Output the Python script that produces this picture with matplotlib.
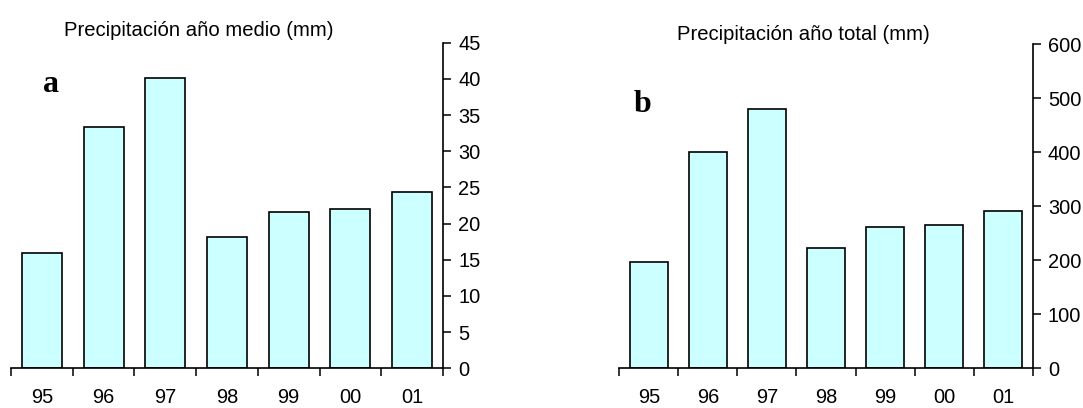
import matplotlib
matplotlib.use("Agg")
import matplotlib.pyplot as plt
import numpy as np

# Annual precipitation, 1995-2001
years = ["95", "96", "97", "98", "99", "00", "01"]
mean_precip = [16.0, 33.4, 40.1, 18.2, 21.6, 22.0, 24.3]
total_precip = [196, 400, 481, 222, 262, 266, 292]

mean_ticks = [0, 5, 10, 15, 20, 25, 30, 35, 40, 45]
total_ticks = [0, 100, 200, 300, 400, 500, 600]

W, H = 1083, 408
plt.rcParams["font.family"] = ["Liberation Sans", "DejaVu Sans"]

fig = plt.figure(figsize=(W / 100, H / 100), dpi=100)


def px_rect(left, right, bottom, top):
    return [left / W, 1 - bottom / H, (right - left) / W, (bottom - top) / H]


def panel(rect, values, ticks, ymax):
    ax = fig.add_axes(rect)
    x = np.arange(len(values))
    ax.bar(x, values, width=0.65, color="#ccffff", edgecolor="black",
           linewidth=1.2, zorder=2)
    ax.set_xlim(-0.5, len(values) - 0.5)
    ax.set_ylim(0, ymax)
    for s in ("top", "left"):
        ax.spines[s].set_visible(False)
    for s in ("bottom", "right"):
        ax.spines[s].set_linewidth(1.2)
        ax.spines[s].set_zorder(3)
    # category labels under small inward ticks; boundaries marked outward
    ax.set_xticks(x)
    ax.set_xticklabels(years, fontsize=14.4)
    ax.set_xticks(np.arange(len(values) + 1) - 0.5, minor=True)
    ax.tick_params(axis="x", which="major", direction="in", length=2.5,
                   width=1.1, pad=14)
    ax.tick_params(axis="x", which="minor", direction="out", length=6,
                   width=1.1)
    ax.yaxis.tick_right()
    ax.set_yticks(ticks)
    ax.set_yticklabels([str(t) for t in ticks], fontsize=14.4)
    ax.tick_params(axis="y", which="major", direction="out", length=6,
                   width=1.1, pad=5)
    ax.set_facecolor("none")
    return ax


ax_a = panel(px_rect(11, 443, 368.3, 42.7), mean_precip, mean_ticks, 45)
ax_b = panel(px_rect(619.3, 1032.7, 368.3, 44.3), total_precip, total_ticks, 600)

fig.text(199 / W, 1 - 31 / H, "Precipitación año medio (mm)", fontsize=14.6,
         ha="center", va="center")
fig.text(803.7 / W, 1 - 35 / H, "Precipitación año total (mm)", fontsize=14.6,
         ha="center", va="center")

fig.text(51 / W, 1 - 92 / H, "a", fontsize=23, fontweight="bold",
         family="Liberation Serif", ha="center", va="baseline")
fig.text(642 / W, 1 - 112 / H, "b", fontsize=23, fontweight="bold",
         family="Liberation Serif", ha="center", va="baseline")

fig.savefig("out.png", dpi=100)
